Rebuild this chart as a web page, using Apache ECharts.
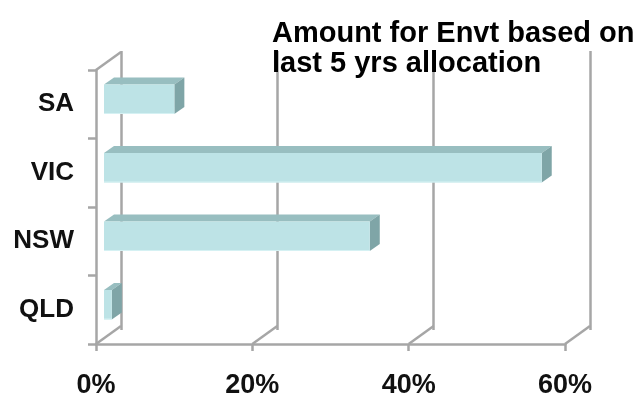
<!DOCTYPE html>
<html>
<head>
<meta charset="utf-8">
<script src="https://cdn.jsdelivr.net/npm/echarts@6/dist/echarts.min.js"></script>
<style>
  html, body { margin: 0; padding: 0; background: #ffffff; }
  #chart { width: 644px; height: 399px; }
</style>
</head>
<body>
<div id="chart"></div>
<script>
// ---- data ----
const categories = ['SA', 'VIC', 'NSW', 'QLD'];
const shares = [0.09, 0.56, 0.34, 0.01];
const xTickValues = [0, 0.2, 0.4, 0.6];
const xTickLabels = ['0%', '20%', '40%', '60%'];
const titleLines = ['Amount for Envt based on', 'last 5 yrs allocation'];

// ---- style constants ----
const GRID_COLOR = '#a6a6a6';
const DEPTH = [25, -18];          // front plane -> back wall offset
const BAR_FRONT = [8, -5];        // offset of bar front face from front plane
const BAR_DEPTH = [10, -7];       // bar thickness in depth
const BAR_RATIO = 0.43;

const chart = echarts.init(document.getElementById('chart'));

const barData = shares.map((v, i) => [v, i]);
const tickData = xTickValues.map(v => [v]);

function renderBar(params, api) {
  const v = api.value(0);
  const cat = api.value(1);
  const p0 = api.coord([0, cat]);
  const p1 = api.coord([v, cat]);
  const band = api.size([0, 1])[1];
  const h = band * BAR_RATIO;
  const x0 = p0[0] + BAR_FRONT[0];
  const x1 = p1[0] + BAR_FRONT[0];
  const y0 = p0[1] + BAR_FRONT[1] - h / 2;
  const dx = BAR_DEPTH[0], dy = BAR_DEPTH[1];
  return {
    type: 'group',
    children: [
      { type: 'polygon', shape: { points: [[x0, y0], [x1, y0], [x1 + dx, y0 + dy], [x0 + dx, y0 + dy]] },
        style: { fill: '#98bec0' } },
      { type: 'polygon', shape: { points: [[x1, y0], [x1 + dx, y0 + dy], [x1 + dx, y0 + h + dy], [x1, y0 + h]] },
        style: { fill: '#7fa5a7' } },
      { type: 'rect', shape: { x: x0, y: y0, width: x1 - x0, height: h },
        style: { fill: '#bde3e6' } },
      { type: 'line', shape: { x1: x0, y1: y0 + h - 0.5, x2: x1, y2: y0 + h - 0.5 },
        style: { stroke: '#d6f1f3', lineWidth: 1 } }
    ]
  };
}

function renderWall(params, api) {
  const cs = params.coordSys;
  const v = api.value(0);
  const x = api.coord([v, 0])[0];
  const yb = cs.y + cs.height;
  const children = [
    { type: 'line', shape: { x1: x, y1: yb, x2: x + DEPTH[0], y2: yb + DEPTH[1] },
      style: { stroke: GRID_COLOR, lineWidth: 2.5 } }
  ];
  if (params.dataIndex === 0) {
    children.push({ type: 'line', shape: { x1: cs.x, y1: cs.y, x2: cs.x + DEPTH[0], y2: cs.y + DEPTH[1] },
      style: { stroke: GRID_COLOR, lineWidth: 2.5 } });
  }
  return { type: 'group', children: children };
}

chart.setOption({
  animation: false,
  backgroundColor: '#ffffff',
  title: {
    text: titleLines.join('\n'),
    left: 272,
    top: 19,
    padding: 0,
    textStyle: {
      fontFamily: 'Liberation Sans',
      fontWeight: 'bold',
      fontSize: 29,
      lineHeight: 30,
      color: '#000000'
    },
    z: 10
  },
  grid: [
    { left: 96, right: 79, top: 70, bottom: 51 },   // front plane
    { left: 121, right: 54, top: 51, bottom: 69 }   // back wall
  ],
  xAxis: [
    {
      type: 'value', gridIndex: 0, min: 0, max: 0.6, interval: 0.2,
      axisLine: { show: true, lineStyle: { color: GRID_COLOR, width: 2.5 } },
      axisTick: { show: true, length: 7, lineStyle: { color: GRID_COLOR, width: 2.5 } },
      splitLine: { show: false },
      axisLabel: {
        margin: 28,
        fontFamily: 'Liberation Sans', fontWeight: 'bold', fontSize: 27, color: '#111111',
        formatter: v => xTickLabels[xTickValues.findIndex(t => Math.abs(t - v) < 1e-9)]
      }
    },
    {
      type: 'value', gridIndex: 1, min: 0, max: 0.6, interval: 0.2,
      axisLine: { show: false }, axisTick: { show: false }, axisLabel: { show: false },
      splitLine: { show: true, lineStyle: { color: GRID_COLOR, width: 2.5 } }
    }
  ],
  yAxis: [
    {
      type: 'category', gridIndex: 0, data: categories, inverse: true,
      axisLine: { show: true, lineStyle: { color: GRID_COLOR, width: 2.5 } },
      axisTick: { show: true, length: 8, lineStyle: { color: GRID_COLOR, width: 2.5 } },
      axisLabel: {
        margin: 22, padding: [6, 0, 0, 0],
        fontFamily: 'Liberation Sans', fontWeight: 'bold', fontSize: 26, color: '#111111'
      }
    },
    {
      type: 'category', gridIndex: 1, data: categories, inverse: true,
      axisLine: { show: false }, axisTick: { show: false }, axisLabel: { show: false },
      splitLine: { show: false }
    }
  ],
  series: [
    {
      type: 'custom', name: 'wall', xAxisIndex: 0, yAxisIndex: 0,
      data: tickData, encode: { x: 0 }, renderItem: renderWall, z: 1, silent: true
    },
    {
      type: 'custom', name: 'share', xAxisIndex: 0, yAxisIndex: 0,
      data: barData, encode: { x: 0, y: 1 }, renderItem: renderBar, z: 5
    }
  ]
});
</script>
</body>
</html>
